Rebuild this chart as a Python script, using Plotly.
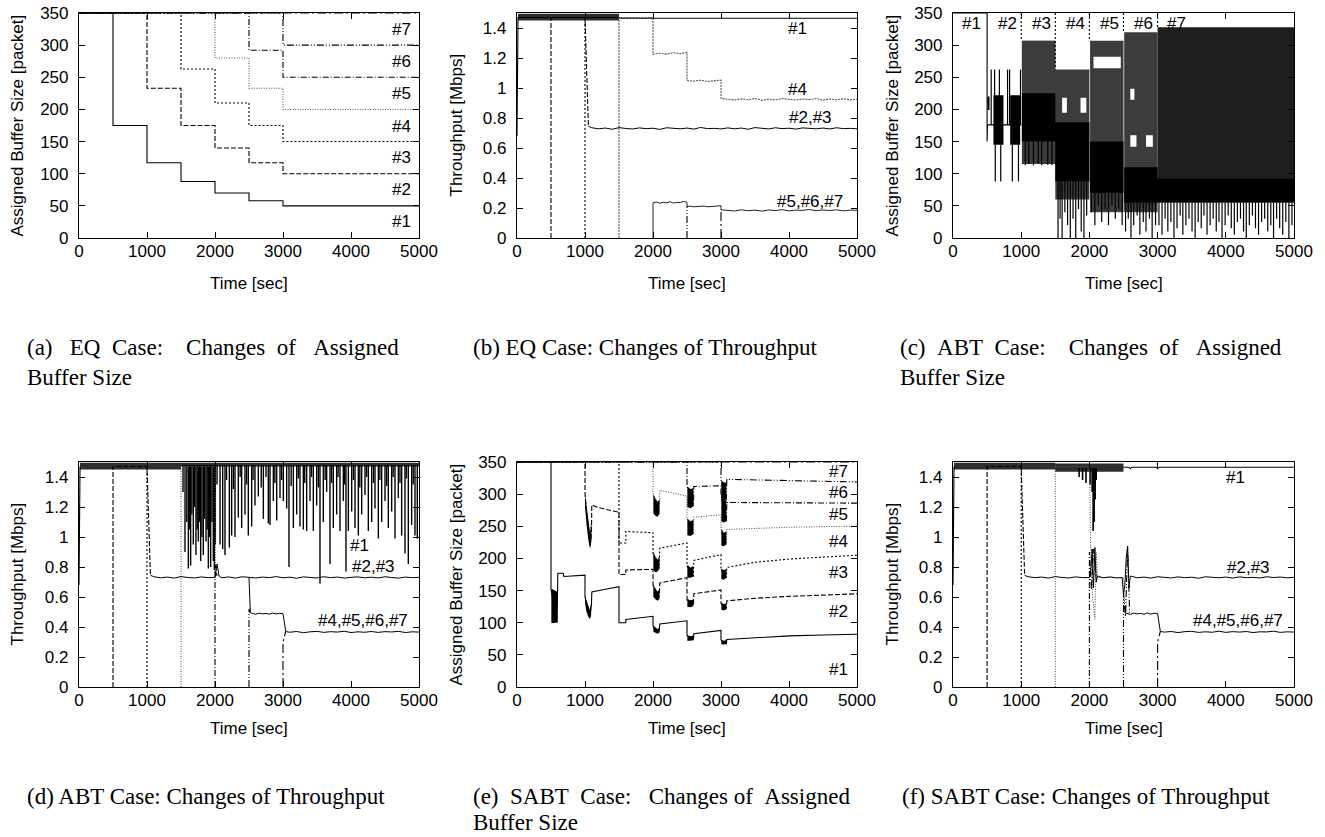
import plotly.graph_objects as go

NB = "\u00a0"
SANS = "Liberation Sans, Arial, Helvetica, sans-serif"
SERIF = "Liberation Serif, Times New Roman, serif"
W, H = 1325, 837

# ---------------- shared ticks ----------------
TIME_TICKS = [0, 1000, 2000, 3000, 4000, 5000]
BUF_TICKS = [0, 50, 100, 150, 200, 250, 300, 350]
THR_TICKS = [0, 0.2, 0.4, 0.6, 0.8, 1.0, 1.2, 1.4]
THR_TEXT = ["0", "0.2", "0.4", "0.6", "0.8", "1", "1.2", "1.4"]

# ---------------- (a) EQ buffer (cumulative step lines) ----------------
A_T = [0, 500, 1000, 1500, 2000, 2500, 3000, 5000]
A_B1 = [350, 175, 117, 88, 70, 58, 50, 50]
A_B2 = [350, 350, 233, 175, 140, 117, 100, 100]
A_B3 = [350, 350, 350, 263, 210, 175, 150, 150]
A_B4 = [350, 350, 350, 350, 280, 233, 200, 200]
A_B5 = [350, 350, 350, 350, 350, 292, 250, 250]
A_B6 = [350, 350, 350, 350, 350, 350, 300, 300]
A_B7 = [350, 350, 350, 350, 350, 350, 350, 350]
A_LBL = ["#7", "#6", "#5", "#4", "#3", "#2", "#1"]
A_LBL_Y = [324, 275, 225, 174, 125, 75, 25]

# ---------------- (b) EQ throughput ----------------
B_T1_X = [0, 15, 1500, 1520, 5000]
B_T1_Y = [0.68, 1.47, 1.47, 1.465, 1.465]
B_BAND_X = [15, 1500]
B_BAND_LO = [1.45, 1.45]
B_BAND_HI = [1.495, 1.495]
B_F2_X = [500, 500, 1000, 1050]
B_F2_Y = [0, 1.47, 1.47, 0.745]
B_F3_X = [1000, 1000]
B_F3_Y = [0, 1.47]
B_P23_X = [1050] + list(range(1100, 5001, 100))
B_P23_Y = [0.745,
           0.735, 0.728, 0.733, 0.725, 0.736, 0.730, 0.727, 0.734, 0.729, 0.732,
           0.724, 0.735, 0.731, 0.728, 0.733, 0.726, 0.737, 0.729, 0.731, 0.727,
           0.734, 0.728, 0.733, 0.725, 0.736, 0.730, 0.727, 0.735, 0.729, 0.732,
           0.726, 0.734, 0.731, 0.728, 0.733, 0.727, 0.735, 0.729, 0.731, 0.728]
B_P4_X = [1500, 1500, 2000, 2000, 2100, 2200, 2300, 2400, 2500, 2500, 2600, 2700, 2800, 2900, 3000, 3000] + list(range(3100, 5001, 100))
B_P4_Y = [0, 1.47, 1.47, 1.225, 1.232, 1.226, 1.235, 1.228, 1.238, 1.05, 1.046, 1.052, 1.044, 1.05, 1.052, 0.93,
          0.925, 0.92, 0.928, 0.922, 0.93, 0.918, 0.926, 0.921, 0.929, 0.924,
          0.92, 0.927, 0.923, 0.93, 0.919, 0.926, 0.922, 0.928, 0.921, 0.925]
B_P567_X = [2000, 2000] + list(range(2050, 2501, 50)) + [2500] + list(range(2550, 3001, 50)) + [3000] + list(range(3100, 5001, 100))
B_P567_Y = [0, 0.235, 0.24, 0.232, 0.238, 0.235, 0.242, 0.233, 0.238, 0.236, 0.244, 0.238,
            0.21, 0.212, 0.208, 0.211, 0.209, 0.213, 0.208, 0.211, 0.21, 0.212, 0.215,
            0.188,
            0.185, 0.18, 0.188, 0.182, 0.186, 0.179, 0.187, 0.183, 0.189, 0.181,
            0.186, 0.184, 0.19, 0.182, 0.187, 0.183, 0.188, 0.181, 0.186, 0.185]
B_F6_X = [2500, 2500]
B_F6_Y = [0, 0.21]
B_F7_X = [3000, 3000]
B_F7_Y = [0, 0.19]
B_LBL = ["#1", "#4", "#2,#3", "#5,#6,#7"]
B_LBL_X = [4122, 4122, 4320, 4309]
B_LBL_Y = [1.394, 0.99, 0.80, 0.243]

# ---------------- (c) ABT buffer ----------------
C_L1_X = [0, 500, 500, 505, 1000]
C_L1_Y = [350, 350, 150, 176, 176]
C_START_X = [1000, 1500, 2000, 2500, 3000]
C_START_BOT = [307, 262, 307, 320, 328]
C_TEX_X0 = [1010, 1500, 2010, 2510]
C_TEX_X1 = [1500, 2000, 2500, 3000]
C_TEX_LO = [115, 60, 40, 40]
C_TEX_HI = [307, 262, 307, 320]
C_TOPTEX_X0 = [1010]
C_TOPTEX_X1 = [1500]
C_TOPTEX_LO = [258]
C_TOPTEX_HI = [307]
C_MASS_X0 = [3000]
C_MASS_X1 = [5000]
C_MASS_LO = [90]
C_MASS_HI = [328]
C_CORE_X0 = [505, 593, 838, 1010, 1500, 2010, 2510, 3000]
C_CORE_X1 = [535, 740, 985, 1500, 2000, 2500, 3000, 5000]
C_CORE_LO = [199, 145, 145, 150, 88, 70, 55, 55]
C_CORE_HI = [220, 222, 222, 225, 180, 150, 110, 92]
C_HOLE_X0 = [1600, 1870, 2060, 2600, 2830, 2600]
C_HOLE_X1 = [1670, 1955, 2460, 2690, 2930, 2660]
C_HOLE_LO = [195, 195, 264, 142, 142, 215]
C_HOLE_HI = [218, 218, 282, 160, 160, 232]
C_UP_X = [560, 610, 680, 800, 830, 990]
C_UP_TOP = [262, 262, 262, 262, 262, 262]
C_DN_X = [620, 700, 870, 960,
          1060, 1110, 1180, 1250, 1300, 1390, 1450,
          1540, 1570, 1600, 1640, 1680, 1720, 1760, 1800, 1840, 1880, 1920, 1960,
          2030, 2080, 2130, 2180, 2230, 2280, 2330, 2380, 2430, 2480,
          2530, 2570, 2610, 2650, 2700, 2740, 2790, 2830, 2880, 2920, 2970,
          3020, 3065, 3110, 3150, 3195, 3240, 3285, 3330, 3370, 3415,
          3460, 3505, 3550, 3595, 3640, 3680, 3725, 3770, 3815, 3860,
          3900, 3945, 3990, 4035, 4080, 4125, 4170, 4215, 4260, 4300,
          4345, 4390, 4435, 4480, 4525, 4570, 4615, 4660, 4700, 4745,
          4790, 4835, 4880, 4925, 4970]
C_DN_BOT = [88, 88, 88, 88,
            113, 115, 113, 116, 113, 114, 113,
            0, 30, 0, 40, 20, 0, 30, 0, 45, 10, 0, 35,
            40, 20, 50, 25, 45, 20, 50, 30, 45, 20,
            10, 30, 0, 20, 35, 5, 25, 10, 30, 0, 20,
            20, 5, 30, 10, 25, 0, 15, 35, 5, 20,
            30, 10, 0, 25, 15, 35, 5, 20, 30, 10,
            25, 0, 20, 35, 15, 5, 25, 30, 10, 0,
            20, 35, 15, 5, 25, 30, 10, 20, 0, 30,
            15, 5, 25, 0, 20]
C_LBL = ["#1", "#2", "#3", "#4", "#5", "#6", "#7"]
C_LBL_X = [274, 802, 1300, 1789, 2292, 2791, 3280]
C_LBL_Y = [334, 334, 334, 334, 334, 334, 334]

# ---------------- (d) ABT throughput ----------------
D_T1_X = [0, 15]
D_T1_Y = [0.68, 1.47]
D_BAND_X = [15, 1500, None, 1500, 5000]
D_BAND_LO = [1.45, 1.45, None, 1.47, 1.47]
D_BAND_HI = [1.495, 1.495, None, 1.495, 1.495]
D_SPK_X = [1530, 1559, 1585, 1608, 1625, 1642, 1660, 1681, 1700, 1720,
           1738, 1755, 1772, 1789, 1808, 1828, 1848, 1868, 1885, 1902,
           1918, 1936, 1955, 1975, 1990, 2005,
           2074, 2113, 2147, 2211, 2245, 2294, 2343, 2392, 2441, 2490,
           2539, 2588, 2637, 2711, 2784, 2809, 2858, 2907, 2956, 3005,
           3054, 3088, 3152, 3201, 3250, 3299, 3348, 3397, 3446, 3495,
           3544, 3593, 3642, 3691, 3740, 3789, 3838, 3887, 3926, 3961,
           4010, 4059, 4108, 4157, 4206, 4255, 4304, 4353, 4402, 4451,
           4500, 4549, 4598, 4647, 4696, 4745, 4794, 4843, 4892, 4941, 4975,
           2030, 2170, 2270, 2370, 2465, 2560, 2680, 2750, 2880, 2980,
           3120, 3225, 3320, 3420, 3520, 3620, 3715, 3810, 3905, 4035,
           4130, 4230, 4330, 4425, 4525, 4620, 4720, 4815, 4915]
D_SPK_Y = [1.30, 0.90, 1.10, 0.79, 1.05, 0.81, 1.15, 0.95, 1.20, 0.88,
           1.05, 0.97, 1.10, 0.84, 1.00, 0.88, 1.12, 0.97, 1.05, 0.79,
           1.00, 0.80, 1.10, 0.84, 0.78, 0.95,
           0.95, 0.92, 0.88, 0.93, 1.01, 1.00, 1.13, 1.06, 1.15, 1.01,
           1.07, 1.21, 1.27, 1.12, 1.09, 1.08, 1.24, 1.11, 1.26, 1.24,
           1.19, 0.80, 1.06, 1.15, 1.07, 1.05, 1.04, 1.24, 1.04, 1.21,
           0.69, 1.10, 1.30, 0.82, 1.06, 1.15, 1.04, 1.24, 0.77, 1.04,
           1.17, 1.06, 1.01, 1.15, 1.28, 1.04, 1.10, 1.19, 0.99, 1.10,
           1.24, 1.06, 1.17, 0.99, 1.26, 1.01, 0.89, 0.82, 1.08, 1.01, 0.99,
           1.35, 1.38, 1.32, 1.40, 1.35, 1.38, 1.33, 1.40, 1.36, 1.38,
           1.34, 1.39, 1.36, 1.40, 1.33, 1.38, 1.36, 1.40, 1.35, 1.38,
           1.33, 1.40, 1.36, 1.38, 1.34, 1.40, 1.36, 1.39, 1.35]
D_SPK_TOP = 1.48
D_F2_X = [500, 500, 1000, 1050]
D_F2_Y = [0, 1.47, 1.47, 0.745]
D_F3_X = [1000, 1000]
D_F3_Y = [0, 1.47]
D_F4_X = [1500, 1500, 2000, 2010]
D_F4_Y = [0, 1.47, 1.47, 0.73]
D_F5_X = [2000, 2000, 2030]
D_F5_Y = [0, 0.82, 0.74]
D_F6_X = [2500, 2500, 2520]
D_F6_Y = [0, 0.52, 0.49]
D_F7_X = [3000, 3000, 3040]
D_F7_Y = [0, 0.30, 0.37]
D_P23_X = [1050] + list(range(1100, 2000, 100)) + [2000, 2030, 2060] + list(range(2100, 5001, 100))
D_P23_Y = [0.745,
           0.735, 0.728, 0.733, 0.726, 0.736, 0.73, 0.727, 0.734, 0.729,
           0.73, 0.82, 0.74,
           0.728, 0.734, 0.726, 0.735, 0.73, 0.727, 0.733, 0.729, 0.736, 0.728,
           0.732, 0.725, 0.734, 0.73, 0.727, 0.735, 0.729, 0.733, 0.726, 0.731,
           0.734, 0.728, 0.732, 0.727, 0.735, 0.73, 0.726, 0.733, 0.729, 0.731]
D_P4567_X = [2500, 2520] + list(range(2550, 3001, 50)) + [3040] + list(range(3100, 5001, 100))
D_P4567_Y = [0.73, 0.495,
             0.49, 0.485, 0.492, 0.488, 0.49, 0.486, 0.493, 0.487, 0.491, 0.489,
             0.37,
             0.365, 0.37, 0.362, 0.368, 0.371, 0.364, 0.369, 0.366, 0.372, 0.363,
             0.368, 0.365, 0.37, 0.364, 0.369, 0.367, 0.371, 0.363, 0.368, 0.366]
D_LBL = ["#1", "#2,#3", "#4,#5,#6,#7"]
D_LBL_X = [4132, 4328, 4181]
D_LBL_Y = [0.942, 0.802, 0.442]

# ---------------- (e) SABT buffer (cumulative lines) ----------------
E_L1_X = [0, 500, 500, 590, 600, 680, 690, 1000, 1000, 1070, 1095, 1100, 1300, 1500, 1500, 1600, 1600, 2000,
          2000, 2090, 2100, 2500, 2500, 2595, 2600, 3000, 3000, 3080, 3085, 3500, 4000, 4500, 5000]
E_L1_Y = [350, 350, 152, 100, 177, 177, 172, 174, 140, 107, 128, 148, 152, 156, 100, 100, 105, 110,
          95, 85, 98, 103, 80, 73, 83, 88, 73, 67, 74, 77, 79.5, 81, 82]
E_L1_BX = [505, 530, 560, 590, None, 1000, 1020, 1045, 1070, 1090, None, 2005, 2040, 2070, 2090, None,
           2505, 2550, 2595, None, 3005, 3040, 3080]
E_L1_BLO = [100, 99, 100, 100, None, 132, 118, 110, 106, 112, None, 86, 84, 83, 85, None,
            72, 72, 73, None, 66, 66, 67]
E_L1_BHI = [153, 151, 150, 148, None, 142, 136, 128, 120, 130, None, 95, 92, 90, 92, None,
            80, 79, 80, None, 73, 72, 73]
E_L2_X = [0, 1000, 1000, 1075, 1095, 1100, 1200, 1300, 1400, 1500, 1500, 1600, 1600, 2000, 2000, 2090, 2100,
          2300, 2500, 2500, 2595, 2600, 2800, 3000, 3000, 3080, 3085, 3500, 4000, 4500, 5000]
E_L2_Y = [350, 350, 300, 218, 240, 283, 279, 276, 274, 272, 175, 175, 182, 183, 158, 140, 162,
          166, 170, 135, 127, 145, 148, 151, 130, 122, 134, 138, 141, 143, 145]
E_L2_BX = [1000, 1025, 1050, 1075, 1095, None, 2005, 2040, 2070, 2095, None, 2505, 2550, 2595, None, 3005, 3040, 3080]
E_L2_BLO = [280, 250, 228, 215, 228, None, 140, 136, 134, 137, None, 125, 124, 126, None, 120, 119, 121]
E_L2_BHI = [300, 278, 258, 240, 262, None, 160, 152, 148, 152, None, 137, 135, 136, None, 131, 129, 130]
E_L3_X = [0, 1500, 1500, 1600, 1600, 2000, 2000, 2090, 2100, 2300, 2500, 2500, 2595, 2600, 2800, 3000,
          3000, 3080, 3085, 3500, 4000, 4500, 5000]
E_L3_Y = [350, 350, 224, 224, 242, 240, 205, 185, 216, 220, 224, 188, 172, 197, 202, 206,
          183, 170, 186, 194, 199, 202, 205]
E_L3_BX = [2005, 2040, 2070, 2095, None, 2505, 2550, 2595, None, 3005, 3040, 3080]
E_L3_BLO = [182, 178, 180, 184, None, 170, 170, 172, None, 168, 167, 170]
E_L3_BHI = [210, 202, 198, 204, None, 190, 186, 188, None, 184, 182, 183]
E_L4_X = [0, 2000, 2000, 2090, 2100, 2300, 2500, 2500, 2595, 2600, 2800, 3000, 3000, 3080, 3085, 3500, 4000, 4500, 5000]
E_L4_Y = [350, 350, 300, 268, 306, 301, 297, 262, 238, 264, 266, 268, 245, 222, 245, 247, 248.5, 249.5, 250]
E_L4_BX = [2005, 2040, 2070, 2095, None, 2505, 2550, 2595, None, 3005, 3040, 3080]
E_L4_BLO = [270, 266, 265, 270, None, 236, 235, 238, None, 220, 219, 222]
E_L4_BHI = [300, 292, 288, 292, None, 262, 258, 260, None, 246, 240, 242]
E_L5_X = [0, 2500, 2500, 2595, 2600, 3000, 3000, 3080, 3085, 4000, 5000]
E_L5_Y = [350, 350, 312, 282, 312, 313, 300, 258, 287, 286.5, 286]
E_L5_BX = [2505, 2550, 2595, None, 3005, 3040, 3080]
E_L5_BLO = [280, 278, 281, None, 258, 256, 258]
E_L5_BHI = [312, 308, 309, None, 300, 290, 292]
E_L6_X = [0, 3000, 3000, 3080, 3085, 4000, 5000]
E_L6_Y = [350, 350, 322, 292, 323, 321, 319]
E_L6_BX = [3005, 3040, 3080]
E_L6_BLO = [292, 290, 292]
E_L6_BHI = [322, 318, 318]
E_L7_X = [0, 5000]
E_L7_Y = [350, 350]
E_LBL = ["#7", "#6", "#5", "#4", "#3", "#2", "#1"]
E_LBL_Y = [336, 302, 268, 227, 178, 118, 27]

# ---------------- (f) SABT throughput ----------------
F_T1_X = [0, 15]
F_T1_Y = [0.68, 1.47]
F_T1B_X = [2500, 2580, 2600, 2620, 2980, 3000, 3020, 5000]
F_T1B_Y = [1.465, 1.465, 1.455, 1.465, 1.465, 1.455, 1.465, 1.465]
F_BAND_X = [15, 1500, None, 1500, 2500]
F_BAND_LO = [1.45, 1.45, None, 1.435, 1.435]
F_BAND_HI = [1.495, 1.495, None, 1.49, 1.49]
F_SPK_X = [1850, 1900, 1950, 2010, 2040, 2055, 2070, 2085, 2100]
F_SPK_Y = [1.40, 1.38, 1.36, 1.35, 1.30, 1.04, 1.10, 1.25, 1.38]
F_SPK_TOP = 1.46
F_F2_X = [500, 500, 1000, 1050]
F_F2_Y = [0, 1.47, 1.47, 0.745]
F_F3_X = [1000, 1000]
F_F3_Y = [0, 1.47]
F_F4_X = [1500, 1500, 2000, 2020, 2050, 2080, 2100, 2120, 2500, 2510, 2520]
F_F4_Y = [0, 1.47, 1.47, 0.9, 0.6, 0.45, 0.9, 0.73, 0.73, 0.55, 0.49]
F_F5_X = [2000, 2000, 2030, 2060, 2100]
F_F5_Y = [0, 0.9, 0.65, 0.92, 0.73]
F_F6_X = [2500, 2500, 2530, 2560, 2590]
F_F6_Y = [0, 0.62, 0.47, 0.94, 0.49]
F_F7_X = [3000, 3000, 3040]
F_F7_Y = [0, 0.30, 0.37]
F_P23_X = ([1050] + list(range(1100, 2000, 100)) + [2000, 2020, 2040, 2060, 2080, 2100, 2120]
           + [2200, 2300, 2400, 2480, 2500, 2520, 2540, 2560, 2580, 2600] + list(range(2700, 5001, 100)))
F_P23_Y = [0.745,
           0.735, 0.729, 0.733, 0.726, 0.736, 0.73, 0.727, 0.734, 0.729,
           0.73, 0.78, 0.92, 0.66, 0.93, 0.70, 0.74,
           0.728, 0.734, 0.727, 0.73, 0.62, 0.68, 0.86, 0.94, 0.66, 0.74,
           0.728, 0.733, 0.726, 0.735, 0.73, 0.727, 0.734, 0.729, 0.732, 0.725,
           0.735, 0.731, 0.728, 0.733, 0.726, 0.734, 0.729, 0.731, 0.727, 0.735,
           0.73, 0.733, 0.728, 0.731]
F_P4567_X = [2520] + list(range(2550, 3001, 50)) + [3040] + list(range(3100, 5001, 100))
F_P4567_Y = [0.495,
             0.49, 0.484, 0.493, 0.487, 0.491, 0.485, 0.494, 0.486, 0.492, 0.49,
             0.37,
             0.366, 0.37, 0.363, 0.369, 0.371, 0.364, 0.368, 0.365, 0.372, 0.364,
             0.369, 0.366, 0.37, 0.363, 0.368, 0.367, 0.372, 0.364, 0.368, 0.366]
F_LBL = ["#1", "#2,#3", "#4,#5,#6,#7"]
F_LBL_X = [4135, 4330, 4183]
F_LBL_Y = [1.40, 0.80, 0.442]

# ---------------- captions ----------------
CAP_A = ["(a)" + NB * 3 + "EQ" + NB * 2 + "Case:" + NB * 4 + "Changes" + NB * 2 + "of" + NB * 3 + "Assigned", "Buffer Size"]
CAP_B = ["(b) EQ Case: Changes of Throughput"]
CAP_C = ["(c)" + NB * 2 + "ABT" + NB * 2 + "Case:" + NB * 4 + "Changes" + NB * 2 + "of" + NB * 3 + "Assigned", "Buffer Size"]
CAP_D = ["(d) ABT Case: Changes of Throughput"]
CAP_E = ["(e)" + NB * 2 + "SABT" + NB * 2 + "Case:" + NB * 3 + "Changes" + NB * 1 + "of" + NB * 2 + "Assigned", "Buffer Size"]
CAP_F = ["(f) SABT Case: Changes of Throughput"]

# ---------------- layout geometry (pixels of the 1325x837 page) ----------------
COL_X = {"a": (79, 419), "b": (517, 857), "c": (953, 1294), "d": (79, 419), "e": (517, 857), "f": (953, 1294)}
ROW_Y = {"a": (13, 238), "b": (13, 238), "c": (13, 238), "d": (462, 687), "e": (462, 687), "f": (462, 687)}
AX = {"a": "", "b": "2", "c": "3", "d": "4", "e": "5", "f": "6"}

# ---------------- styles ----------------
S = {
    1: dict(color="black", width=1.1, dash="solid"),
    2: dict(color="black", width=1.1, dash="5px,2px"),
    3: dict(color="black", width=1.1, dash="2px,2px"),
    4: dict(color="#5a5a5a", width=1.1, dash="1px,1.5px"),
    5: dict(color="black", width=1.1, dash="6px,2px,1px,2px"),
    6: dict(color="black", width=1.1, dash="7px,2px,1px,2px,1px,2px"),
    7: dict(color="black", width=1.1, dash="9px,3px,2px,3px"),
}
PLATEAU = dict(color="black", width=1.0, dash="solid")

fig = go.Figure()


def sc(p, x, y, line, shape="linear"):
    fig.add_trace(go.Scatter(x=list(x), y=list(y), mode="lines", xaxis="x" + AX[p], yaxis="y" + AX[p],
                             line=dict(shape=shape, **line), hoverinfo="skip", showlegend=False))


def poly(p, xs, ys, color):
    fig.add_trace(go.Scatter(x=xs, y=ys, mode="lines", fill="toself", fillcolor=color,
                             line=dict(width=0, color=color), xaxis="x" + AX[p], yaxis="y" + AX[p],
                             hoverinfo="skip", showlegend=False))


def blobs(p, X, LO, HI, color):
    xs, ys, seg = [], [], []
    for x, lo, hi in zip(list(X) + [None], list(LO) + [None], list(HI) + [None]):
        if x is None:
            if seg:
                sx = [s[0] for s in seg]
                xs += sx + sx[::-1] + [sx[0], None]
                ys += [s[2] for s in seg] + [s[1] for s in seg][::-1] + [seg[0][2], None]
            seg = []
        else:
            seg.append((x, lo, hi))
    poly(p, xs, ys, color)


def rects(p, X0, X1, LO, HI, color):
    xs, ys = [], []
    for x0, x1, lo, hi in zip(X0, X1, LO, HI):
        xs += [x0, x1, x1, x0, x0, None]
        ys += [lo, lo, hi, hi, lo, None]
    poly(p, xs, ys, color)


def vsegs(p, X, Y0, Y1, line):
    xs, ys = [], []
    for x, a, b in zip(X, Y0, Y1):
        xs += [x, x, None]
        ys += [a, b, None]
    sc(p, xs, ys, line)


# ---- (a)
for k, arr in zip([7, 6, 5, 4, 3, 2, 1], [A_B7, A_B6, A_B5, A_B4, A_B3, A_B2, A_B1]):
    sc("a", A_T, arr, S[k], shape="hv")

# ---- (b)
blobs("b", B_BAND_X, B_BAND_LO, B_BAND_HI, "#2e2e2e")
sc("b", B_T1_X, B_T1_Y, S[1])
sc("b", B_F2_X, B_F2_Y, S[2])
sc("b", B_F3_X, B_F3_Y, S[3])
sc("b", B_P23_X, B_P23_Y, PLATEAU)
sc("b", B_P4_X, B_P4_Y, dict(color="#555555", width=1.1, dash="2px,1px"))
sc("b", B_P567_X, B_P567_Y, dict(color="#222222", width=1.0, dash="solid"))
sc("b", B_F6_X, B_F6_Y, S[6])
sc("b", B_F7_X, B_F7_Y, S[7])

# ---- (c)
rects("c", C_TOPTEX_X0, C_TOPTEX_X1, C_TOPTEX_LO, C_TOPTEX_HI, "#6e6e6e")
rects("c", C_TEX_X0, C_TEX_X1, C_TEX_LO, C_TEX_HI, "#3c3c3c")
rects("c", C_MASS_X0, C_MASS_X1, C_MASS_LO, C_MASS_HI, "#1e1e1e")
rects("c", C_CORE_X0, C_CORE_X1, C_CORE_LO, C_CORE_HI, "#000000")
rects("c", C_HOLE_X0, C_HOLE_X1, C_HOLE_LO, C_HOLE_HI, "#ffffff")
sc("c", C_L1_X, C_L1_Y, S[1])
vsegs("c", C_START_X, [350] * len(C_START_X), C_START_BOT, S[3])
vsegs("c", C_UP_X, [C_L1_Y[-1]] * len(C_UP_X), C_UP_TOP, dict(color="black", width=1.2))


def core_low(x):
    for x0, x1, lo in zip(C_CORE_X0, C_CORE_X1, C_CORE_LO):
        if x0 <= x <= x1:
            return lo
    return C_CORE_LO[-1]


vsegs("c", C_DN_X, [core_low(x) for x in C_DN_X], C_DN_BOT, dict(color="black", width=1.2))

# ---- (d)
blobs("d", D_BAND_X, D_BAND_LO, D_BAND_HI, "#2e2e2e")
sc("d", D_T1_X, D_T1_Y, S[1])
vsegs("d", D_SPK_X, [D_SPK_TOP] * len(D_SPK_X), D_SPK_Y, dict(color="black", width=1.4))
sc("d", D_F2_X, D_F2_Y, S[2])
sc("d", D_F3_X, D_F3_Y, S[3])
sc("d", D_F4_X, D_F4_Y, S[4])
sc("d", D_F5_X, D_F5_Y, S[5])
sc("d", D_F6_X, D_F6_Y, S[6])
sc("d", D_F7_X, D_F7_Y, S[7])
sc("d", D_P23_X, D_P23_Y, PLATEAU)
sc("d", D_P4567_X, D_P4567_Y, PLATEAU)

# ---- (e)
for k, (lx, ly) in zip([7, 6, 5, 4, 3, 2, 1], [(E_L7_X, E_L7_Y), (E_L6_X, E_L6_Y), (E_L5_X, E_L5_Y),
                                                (E_L4_X, E_L4_Y), (E_L3_X, E_L3_Y), (E_L2_X, E_L2_Y),
                                                (E_L1_X, E_L1_Y)]):
    sc("e", lx, ly, S[k])
for bx, blo, bhi in [(E_L1_BX, E_L1_BLO, E_L1_BHI), (E_L2_BX, E_L2_BLO, E_L2_BHI), (E_L3_BX, E_L3_BLO, E_L3_BHI),
                     (E_L4_BX, E_L4_BLO, E_L4_BHI), (E_L5_BX, E_L5_BLO, E_L5_BHI), (E_L6_BX, E_L6_BLO, E_L6_BHI)]:
    blobs("e", bx, blo, bhi, "#000000")

# ---- (f)
blobs("f", F_BAND_X, F_BAND_LO, F_BAND_HI, "#2e2e2e")
sc("f", F_T1_X, F_T1_Y, S[1])
sc("f", F_T1B_X, F_T1B_Y, S[1])
vsegs("f", F_SPK_X, [F_SPK_TOP] * len(F_SPK_X), F_SPK_Y, dict(color="black", width=1.6))
sc("f", F_F2_X, F_F2_Y, S[2])
sc("f", F_F3_X, F_F3_Y, S[3])
sc("f", F_F4_X, F_F4_Y, S[4])
sc("f", F_F5_X, F_F5_Y, S[5])
sc("f", F_F6_X, F_F6_Y, S[6])
sc("f", F_F7_X, F_F7_Y, S[7])
sc("f", F_P23_X, F_P23_Y, PLATEAU)
sc("f", F_P4567_X, F_P4567_Y, PLATEAU)

# ---------------- axes ----------------
TF = dict(family=SANS, size=17, color="black")
layout = dict(autosize=True, margin=dict(l=0, r=0, t=0, b=0, pad=0), paper_bgcolor="white",
              plot_bgcolor="white", showlegend=False)
for p in "abcdef":
    x0, x1 = COL_X[p]
    y0, y1 = ROW_Y[p]
    common = dict(ticks="inside", ticklen=6, tickwidth=1, tickcolor="black", showline=True,
                  linecolor="black", linewidth=1.2, mirror="allticks", showgrid=False, zeroline=False,
                  tickfont=TF, fixedrange=True, automargin=False)
    layout["xaxis" + AX[p]] = dict(domain=[x0 / W, x1 / W], anchor="y" + AX[p], range=[0, 5000],
                                   tickvals=TIME_TICKS, ticklabelstandoff=-3, **common)
    if p in "ace":
        yax = dict(range=[0, 350], tickvals=BUF_TICKS)
    else:
        yax = dict(range=[0, 1.5], tickvals=THR_TICKS, ticktext=THR_TEXT)
    layout["yaxis" + AX[p]] = dict(domain=[1 - y1 / H, 1 - y0 / H], anchor="x" + AX[p],
                                   ticklabelstandoff=6, **yax, **common)

ann = []
LF = dict(family=SANS, size=17, color="black")


def lbl(p, texts, xs, ys):
    for t, x, y in zip(texts, xs, ys):
        ann.append(dict(text=t, x=x, y=y, xref="x" + AX[p], yref="y" + AX[p], showarrow=False,
                        font=LF, xanchor="center", yanchor="middle"))


lbl("a", A_LBL, [4745] * 7, A_LBL_Y)
lbl("b", B_LBL, B_LBL_X, B_LBL_Y)
lbl("c", C_LBL, C_LBL_X, C_LBL_Y)
lbl("d", D_LBL, D_LBL_X, D_LBL_Y)
lbl("e", E_LBL, [4725] * 7, E_LBL_Y)
lbl("f", F_LBL, F_LBL_X, F_LBL_Y)

YT_X = {"a": 17, "b": 456, "c": 892, "d": 17, "e": 456, "f": 892}
YT_TXT = {"a": "Assigned Buffer Size [packet]", "b": "Throughput [Mbps]", "c": "Assigned Buffer Size [packet]",
          "d": "Throughput [Mbps]", "e": "Assigned Buffer Size [packet]", "f": "Throughput [Mbps]"}
XT_Y = {"a": 283, "b": 283, "c": 283, "d": 728, "e": 728, "f": 728}
for p in "abcdef":
    x0, x1 = COL_X[p]
    y0, y1 = ROW_Y[p]
    ann.append(dict(text=YT_TXT[p], x=YT_X[p] / W, y=1 - (y0 + y1) / 2 / H, xref="paper", yref="paper",
                    showarrow=False, textangle=-90, font=LF, xanchor="center", yanchor="middle"))
    ann.append(dict(text="Time [sec]", x=(x0 + x1) / 2 / W, y=1 - XT_Y[p] / H, xref="paper", yref="paper",
                    showarrow=False, font=LF, xanchor="center", yanchor="middle"))

CAP_POS = {"a": (25.7, 348), "b": (471.7, 347), "c": (899, 348), "d": (25.7, 796), "e": (471.7, 796), "f": (900.7, 796)}
CAP_GAP = {"a": 29, "b": 29, "c": 29, "d": 26, "e": 26, "f": 26}
CAPS = {"a": CAP_A, "b": CAP_B, "c": CAP_C, "d": CAP_D, "e": CAP_E, "f": CAP_F}
CF = dict(family=SERIF, size=23, color="black")
for p in "abcdef":
    cx, cy = CAP_POS[p]
    for i, line in enumerate(CAPS[p]):
        ann.append(dict(text=line, x=cx / W, y=1 - (cy + CAP_GAP[p] * i) / H, xref="paper", yref="paper",
                        showarrow=False, font=CF, xanchor="left", yanchor="middle", borderpad=0))

layout["annotations"] = ann
fig.update_layout(**layout)

PAGE_FIX = ("var s='margin:0;padding:0;overflow:hidden;width:100%;height:100%;';"
            "document.documentElement.style.cssText=s;document.body.style.cssText=s;"
            "var gd=document.getElementById('{plot_id}');"
            "if(gd.parentNode&&gd.parentNode!==document.body){gd.parentNode.style.cssText='margin:0;padding:0;width:100%;height:100%;';}"
            "gd.style.cssText='position:fixed;left:0;top:0;margin:0;padding:0;width:100vw;height:100vh;';"
            "Plotly.Plots.resize(gd);")
fig.write_html("out.html", config={"displayModeBar": False, "responsive": True},
               default_width="100vw", default_height="100vh", post_script=PAGE_FIX)
